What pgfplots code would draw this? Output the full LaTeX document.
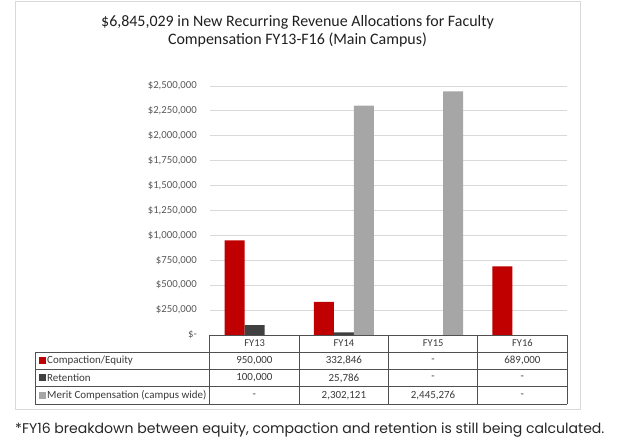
\documentclass[border=0pt]{standalone}
\usepackage{pgfplots}
\pgfplotsset{compat=1.18}
\usepackage{fontspec}
\setmainfont{Carlito}
\newfontfamily\footfont{Poppins}
\definecolor{cred}{HTML}{C00000}
\definecolor{cdark}{HTML}{404040}
\definecolor{clight}{HTML}{A6A6A6}
\definecolor{cgrid}{HTML}{D9D9D9}
\definecolor{ctick}{HTML}{595959}
\definecolor{ctab}{HTML}{3A3A3A}
\definecolor{cline}{HTML}{505050}
\begin{document}
\begin{tikzpicture}[x=1bp,y=1bp]
\path[use as bounding box] (0,0) rectangle (624,441);
\draw[cgrid, line width=1bp] (15,31) rectangle (580,439);
% title
\node[anchor=base, inner sep=0pt, text=black!88] at (297.5,414) {\fontsize{16}{19}\selectfont \$6,845,029 in New Recurring Revenue Allocations for Faculty};
\node[anchor=base, inner sep=0pt, text=black!88] at (297.5,396) {\fontsize{16}{19}\selectfont Compensation FY13-F16 (Main Campus)};
\begin{axis}[
  at={(210bp,106bp)}, anchor=south west,
  scale only axis, width=357bp, height=249bp,
  xmin=0.5, xmax=4.5, ymin=0, ymax=2500000,
  xtick={1,2,3,4}, xticklabels={FY13,FY14,FY15,FY16},
  ytick={0,250000,500000,750000,1000000,1250000,1500000,1750000,2000000,2250000,2500000},
  yticklabels={{\$-},{\$250,000},{\$500,000},{\$750,000},{\$1,000,000},{\$1,250,000},{\$1,500,000},{\$1,750,000},{\$2,000,000},{\$2,250,000},{\$2,500,000}},
  scaled y ticks=false,
  /pgf/number format/assume math mode=true,
  ybar=0pt, bar width=20bp,
  axis line style={draw=none}, major tick length=0pt,
  ymajorgrids, grid style={cgrid, line width=0.8bp},
  clip=false,
  yticklabel style={anchor=east, inner sep=0pt, xshift=-13bp, font=\fontsize{10.8}{12}\selectfont, text=ctick},
  xticklabel style={anchor=center, inner sep=0pt, yshift=-8.5bp, font=\fontsize{10.5}{12}\selectfont, text=ctab},
]
% zero values ("-") are not drawn
\addplot[fill=cred, draw=none] coordinates {(1,950000) (2,332846) (4,689000)};
\addplot[fill=cdark, draw=none] coordinates {(1,100000) (2,25786)};
\addplot[fill=clight, draw=none] coordinates {(2,2302121) (3,2445276)};
\end{axis}
% table grid
\begin{scope}[cline, line width=0.9bp]
\draw (209.5,106) -- (567,106);
\draw (35,89) -- (567,89);
\draw (35,72) -- (567,72);
\draw (35,54.5) -- (567,54.5);
\draw (35,37) -- (567,37);
\draw (35,89) -- (35,37);
\foreach \xx in {209.5,299.25,388.5,477.75,567} {\draw (\xx,106) -- (\xx,37);}
\end{scope}
% row labels
\fill[cred] (39,77) rectangle (46,84);
\fill[cdark] (39,59.5) rectangle (46,66.5);
\fill[clight] (39,42) rectangle (46,49);
\begin{scope}[every node/.style={inner sep=0pt, text=ctab, font=\fontsize{11}{12}\selectfont}]
\node[anchor=west] at (47,80.5) {Compaction/Equity};
\node[anchor=west] at (47,63) {Retention};
\node[anchor=west] at (47,45.5) {Merit Compensation (campus wide)};
% values
\node at (254.4,80.5) {950,000};
\node at (343.9,80.5) {332,846};
\node at (433.1,80.5) {-};
\node at (522.4,80.5) {689,000};
\node at (254.4,63) {100,000};
\node at (343.9,63) {25,786};
\node at (433.1,63) {-};
\node at (522.4,63) {-};
\node at (254.4,45.5) {-};
\node at (343.9,45.5) {2,302,121};
\node at (433.1,45.5) {2,445,276};
\node at (522.4,45.5) {-};
\end{scope}
% footnote
\node[anchor=base west, inner sep=0pt, text=black!85] at (15,7) {\footfont\fontsize{14.1}{16}\selectfont *FY16 breakdown between equity, compaction and retention is still being calculated.};
\end{tikzpicture}
\end{document}
